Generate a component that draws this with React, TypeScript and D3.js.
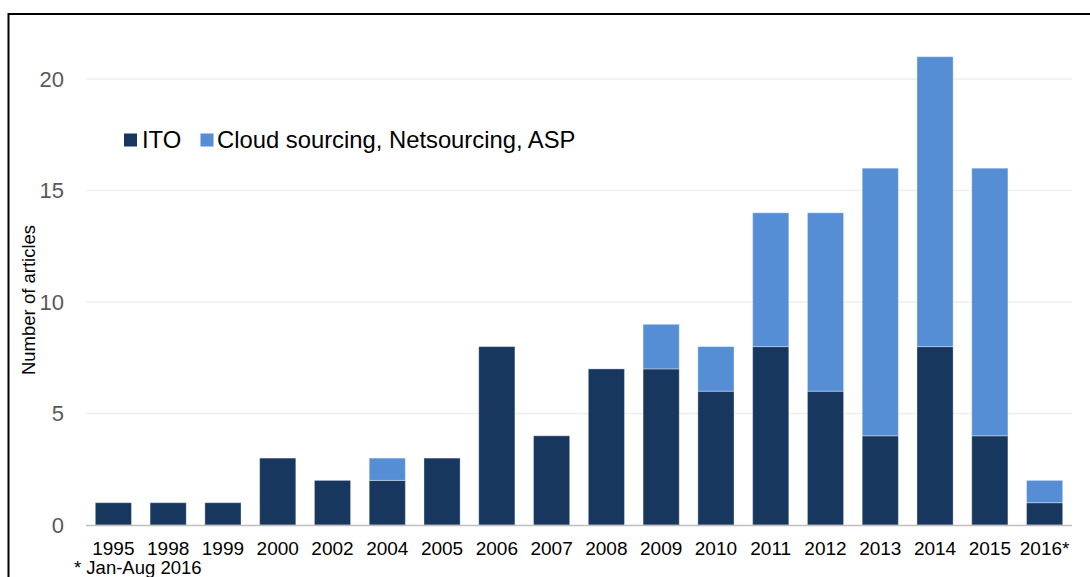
import React from "react";
import * as d3 from "d3";

// Articles per year, split by sourcing type
const years = ["1995", "1998", "1999", "2000", "2002", "2004", "2005", "2006", "2007", "2008", "2009", "2010", "2011", "2012", "2013", "2014", "2015", "2016*"];
const itoCounts = [1, 1, 1, 3, 2, 2, 3, 8, 4, 7, 7, 6, 8, 6, 4, 8, 4, 1];
const cloudCounts = [0, 0, 0, 0, 0, 1, 0, 0, 0, 0, 2, 2, 6, 8, 12, 13, 12, 1];
const yTicks = [0, 5, 10, 15, 20];
const seriesNames = ["ITO", "Cloud sourcing, Netsourcing, ASP"];

const W = 1090;
const H = 577;
const FONT = "'Liberation Sans', Arial, sans-serif";
const DARK = "#17375E";
const LIGHT = "#558ED5";

export default function App() {
  const plotLeft = 86;
  const plotRight = 1072;
  const x = d3.scaleBand<string>().domain(years).range([plotLeft, plotRight]).paddingInner(0.34).paddingOuter(0.17);
  const y = d3.scaleLinear().domain([0, 20]).range([525, 79]);

  const rows = years.map((yr, i) => ({ yr, ito: itoCounts[i], cloud: cloudCounts[i] }));
  const stack = d3.stack<{ yr: string; ito: number; cloud: number }>().keys(["ito", "cloud"])(rows);
  const colors = [DARK, LIGHT];

  return (
    <svg width={W} height={H} style={{ position: "absolute", left: 0, top: 0, background: "#fff" }} fontFamily={FONT}>
      {/* frame */}
      <line x1={8.5} x2={W} y1={14} y2={14} stroke="#000" strokeWidth={2} />
      <line x1={8.5} x2={8.5} y1={13} y2={H} stroke="#000" strokeWidth={2} />

      {/* gridlines */}
      {yTicks.filter((t) => t > 0).map((t) => (
        <line key={t} x1={plotLeft} x2={plotRight} y1={y(t)} y2={y(t)} stroke="#EEEEEE" strokeWidth={1.5} />
      ))}

      {/* y tick labels */}
      {yTicks.map((t) => (
        <text key={t} x={64} y={y(t)} dy="0.36em" textAnchor="end" fontSize={22} fill="#595959">
          {t}
        </text>
      ))}

      {/* y axis title */}
      <text transform={`translate(35,300) rotate(-90)`} textAnchor="middle" fontSize={18.5} fill="#000">
        Number of articles
      </text>

      {/* stacked bars */}
      {stack.map((layer, li) =>
        layer.map((d, i) =>
          d[1] - d[0] > 0 ? (
            <rect
              key={`${li}-${i}`}
              x={x(years[i])}
              y={y(d[1])}
              width={x.bandwidth()}
              height={y(d[0]) - y(d[1])}
              fill={colors[li]}
              stroke="rgba(255,255,255,0.35)"
              strokeWidth={1}
            />
          ) : null
        )
      )}

      {/* baseline */}
      <line x1={plotLeft} x2={plotRight} y1={y(0) + 0.5} y2={y(0) + 0.5} stroke="#BFBFBF" strokeWidth={1.5} />

      {/* x labels */}
      {years.map((yr) => (
        <text key={yr} x={(x(yr) as number) + x.bandwidth() / 2} y={555} textAnchor="middle" fontSize={19} fill="#000">
          {yr}
        </text>
      ))}

      <text x={74} y={574} fontSize={18.5} fill="#000">* Jan-Aug 2016</text>

      {/* legend */}
      <rect x={124} y={133.5} width={13} height={13} fill={DARK} />
      <text x={142} y={147.5} fontSize={23.8} fill="#000">{seriesNames[0]}</text>
      <rect x={200.5} y={133.5} width={13} height={13} fill={LIGHT} />
      <text x={217} y={147.5} fontSize={23.8} fill="#000">{seriesNames[1]}</text>
    </svg>
  );
}
